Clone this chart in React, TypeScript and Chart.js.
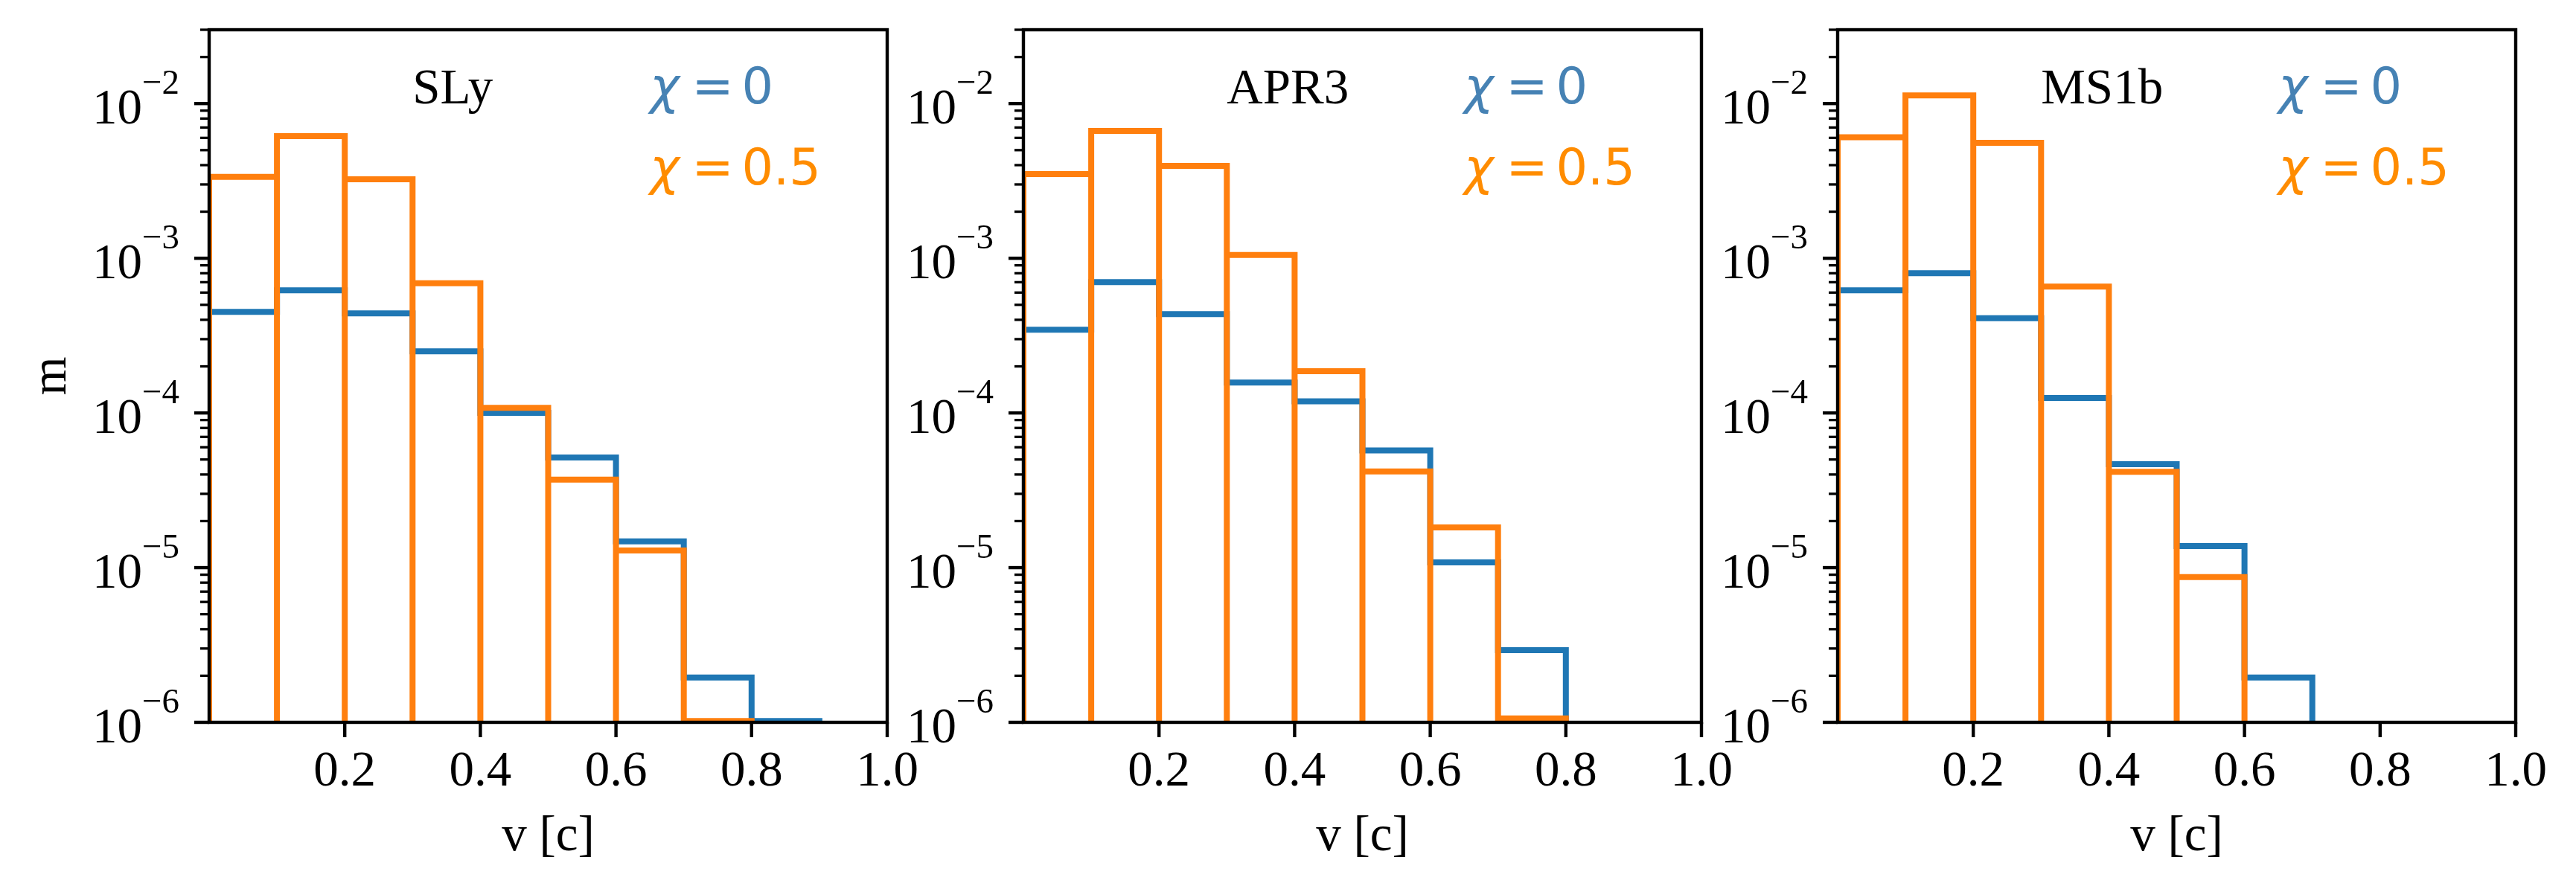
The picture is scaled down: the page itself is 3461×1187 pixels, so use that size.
import { useEffect, useRef } from "react"
import { Chart, registerables } from "chart.js"

Chart.register(...registerables)

const FIG_W = 3461
const FIG_H = 1187

// histogram bins in v [c]
const binEdges = [0, 0.1, 0.2, 0.3, 0.4, 0.5, 0.6, 0.7, 0.8, 0.9, 1.0]
const xTickValues = [0.2, 0.4, 0.6, 0.8, 1.0]
const yMajorExponents = [-6, -5, -4, -3, -2]
const Y_MIN = 1e-6
const Y_MAX = 0.03

const eosNames = ["SLy", "APR3", "MS1b"]

// mass per velocity bin, chi = 0
const slyChi0 = [4.5e-4, 6.2e-4, 4.4e-4, 2.5e-4, 1.0e-4, 5.15e-5, 1.48e-5, 1.95e-6, 1.02e-6, 0]
const apr3Chi0 = [3.45e-4, 7.0e-4, 4.36e-4, 1.57e-4, 1.19e-4, 5.73e-5, 1.08e-5, 2.93e-6, 0, 0]
const ms1bChi0 = [6.2e-4, 8.0e-4, 4.1e-4, 1.25e-4, 4.66e-5, 1.38e-5, 1.95e-6, 0, 0, 0]

// mass per velocity bin, chi = 0.5
const slyChi05 = [3.36e-3, 6.15e-3, 3.24e-3, 6.9e-4, 1.08e-4, 3.71e-5, 1.29e-5, 1.02e-6, 0, 0]
const apr3Chi05 = [3.5e-3, 6.65e-3, 3.95e-3, 1.05e-3, 1.86e-4, 4.19e-5, 1.82e-5, 1.06e-6, 0, 0]
const ms1bChi05 = [6.06e-3, 1.13e-2, 5.57e-3, 6.56e-4, 4.16e-5, 8.7e-6, 0, 0, 0, 0]

const chi0Series = [slyChi0, apr3Chi0, ms1bChi0]
const chi05Series = [slyChi05, apr3Chi05, ms1bChi05]

const BLUE = "#1f77b4"
const ORANGE = "#ff7f0e"
const panelLefts = [281, 1375, 2469]
const PANEL_W = 911
const PANEL_TOP = 40
const PANEL_BOTTOM = 971
const SERIF = '"Liberation Serif", "Times New Roman", serif'
const SANS = '"DejaVu Sans", sans-serif'
const FS = 67

// step outline (histtype="step")
function stepOutline(values: number[]) {
  let last = -1
  values.forEach((v, i) => {
    if (v > 0) last = i
  })
  const pts = [{ x: binEdges[0], y: Y_MIN }]
  for (let i = 0; i <= last; i++) {
    pts.push({ x: binEdges[i], y: values[i] })
    pts.push({ x: binEdges[i + 1], y: values[i] })
  }
  pts.push({ x: binEdges[last + 1], y: Y_MIN })
  return pts
}

// open bar outlines, each bin its own rectangle
function barOutline(values: number[]) {
  const pts: { x: number; y: number }[] = []
  values.forEach((v, i) => {
    if (v <= 0) return
    pts.push({ x: binEdges[i], y: Y_MIN })
    pts.push({ x: binEdges[i], y: v })
    pts.push({ x: binEdges[i + 1], y: v })
    pts.push({ x: binEdges[i + 1], y: Y_MIN })
  })
  return pts
}

function axesPlugin(index: number) {
  return {
    id: "mplAxes" + index,
    afterDraw(chart: Chart) {
      const { ctx, chartArea: a } = chart
      const xs = chart.scales.x
      const ys = chart.scales.y
      ctx.save()
      ctx.strokeStyle = "#000"
      ctx.fillStyle = "#000"
      ctx.lineCap = "butt"

      // x ticks + labels
      ctx.lineWidth = 4.4
      ctx.font = `${FS}px ${SERIF}`
      ctx.textAlign = "center"
      ctx.textBaseline = "alphabetic"
      xTickValues.forEach((v) => {
        const px = xs.getPixelForValue(v)
        ctx.beginPath()
        ctx.moveTo(px, a.bottom)
        ctx.lineTo(px, a.bottom + 20)
        ctx.stroke()
        ctx.fillText(v.toFixed(1), px, a.bottom + 85)
      })

      // y ticks (major + minor) + labels
      yMajorExponents.forEach((e) => {
        const base = Math.pow(10, e)
        const py = ys.getPixelForValue(base)
        ctx.lineWidth = 4.4
        ctx.beginPath()
        ctx.moveTo(a.left - 20, py)
        ctx.lineTo(a.left, py)
        ctx.stroke()
        ctx.lineWidth = 3.3
        for (let m = 2; m <= 9; m++) {
          const val = m * base
          if (val > Y_MAX * 1.0001) break
          const pm = ys.getPixelForValue(val)
          ctx.beginPath()
          ctx.moveTo(a.left - 12, pm)
          ctx.lineTo(a.left, pm)
          ctx.stroke()
        }
        const right = a.left - 40
        const sup = "\u2212" + String(-e)
        ctx.textAlign = "left"
        ctx.font = `${Math.round(FS * 0.7)}px ${SERIF}`
        const wSup = ctx.measureText(sup).width
        ctx.fillText(sup, right - wSup, py - 13)
        ctx.font = `${FS}px ${SERIF}`
        const wTen = ctx.measureText("10").width
        ctx.fillText("10", right - wSup - wTen, py + 27)
      })

      // frame
      ctx.lineWidth = 4.4
      ctx.lineJoin = "miter"
      ctx.strokeRect(a.left, a.top, a.right - a.left, a.bottom - a.top)

      // axis labels
      ctx.font = `${FS}px ${SERIF}`
      ctx.textAlign = "center"
      ctx.fillText("v [c]", (a.left + a.right) / 2, a.bottom + 172)
      if (index === 0) {
        ctx.save()
        ctx.translate(88, (a.top + a.bottom) / 2)
        ctx.rotate(-Math.PI / 2)
        ctx.fillText("m", 0, 0)
        ctx.restore()
      }

      // EoS name
      ctx.textAlign = "left"
      ctx.fillText(eosNames[index], xs.getPixelForValue(0.3), ys.getPixelForValue(1e-2))

      // chi annotations
      const drawChi = (value: string, yVal: number, color: string) => {
        const x0 = xs.getPixelForValue(0.65)
        const y0 = ys.getPixelForValue(yVal)
        ctx.fillStyle = color
        ctx.font = `italic ${FS}px ${SANS}`
        ctx.fillText("\u03c7", x0, y0)
        ctx.font = `${FS}px ${SANS}`
        ctx.fillText("=", x0 + 0.84 * FS, y0)
        ctx.fillText(value, x0 + 1.84 * FS, y0)
      }
      drawChi("0", 1e-2, "#4682b4")
      drawChi("0.5", 3e-3, "#ff8c00")

      ctx.restore()
    },
  }
}

function Panel({ index }: { index: number }) {
  const canvasRef = useRef<HTMLCanvasElement>(null)

  useEffect(() => {
    if (!canvasRef.current) return
    const left = panelLefts[index]
    const chart = new Chart(canvasRef.current, {
      type: "scatter",
      data: {
        datasets: [
          {
            label: "\u03c7 = 0.5",
            data: barOutline(chi05Series[index]),
            showLine: true,
            borderColor: ORANGE,
            backgroundColor: ORANGE,
            borderWidth: 8,
            borderJoinStyle: "miter",
            pointRadius: 0,
            fill: false,
            order: 0,
          },
          {
            label: "\u03c7 = 0",
            data: stepOutline(chi0Series[index]),
            showLine: true,
            borderColor: BLUE,
            backgroundColor: BLUE,
            borderWidth: 8,
            borderJoinStyle: "miter",
            pointRadius: 0,
            fill: false,
            order: 1,
          },
        ],
      },
      options: {
        responsive: false,
        animation: false,
        events: [],
        layout: {
          padding: {
            left,
            right: FIG_W - left - PANEL_W,
            top: PANEL_TOP,
            bottom: FIG_H - PANEL_BOTTOM,
          },
        },
        scales: {
          x: { type: "linear", min: 0, max: 1, display: false },
          y: { type: "logarithmic", min: Y_MIN, max: Y_MAX, display: false },
        },
        plugins: {
          legend: { display: false },
          tooltip: { enabled: false },
        },
      },
      plugins: [axesPlugin(index)],
    })

    return () => {
      chart.destroy()
    }
  }, [index])

  return (
    <canvas
      ref={canvasRef}
      width={FIG_W}
      height={FIG_H}
      style={{ position: "absolute", left: 0, top: 0 }}
    />
  )
}

export default function App() {
  return (
    <div
      style={{
        position: "absolute",
        left: 0,
        top: 0,
        width: FIG_W,
        height: FIG_H,
        background: "#fff",
        overflow: "hidden",
      }}
    >
      {eosNames.map((name, i) => (
        <Panel key={name} index={i} />
      ))}
    </div>
  )
}
